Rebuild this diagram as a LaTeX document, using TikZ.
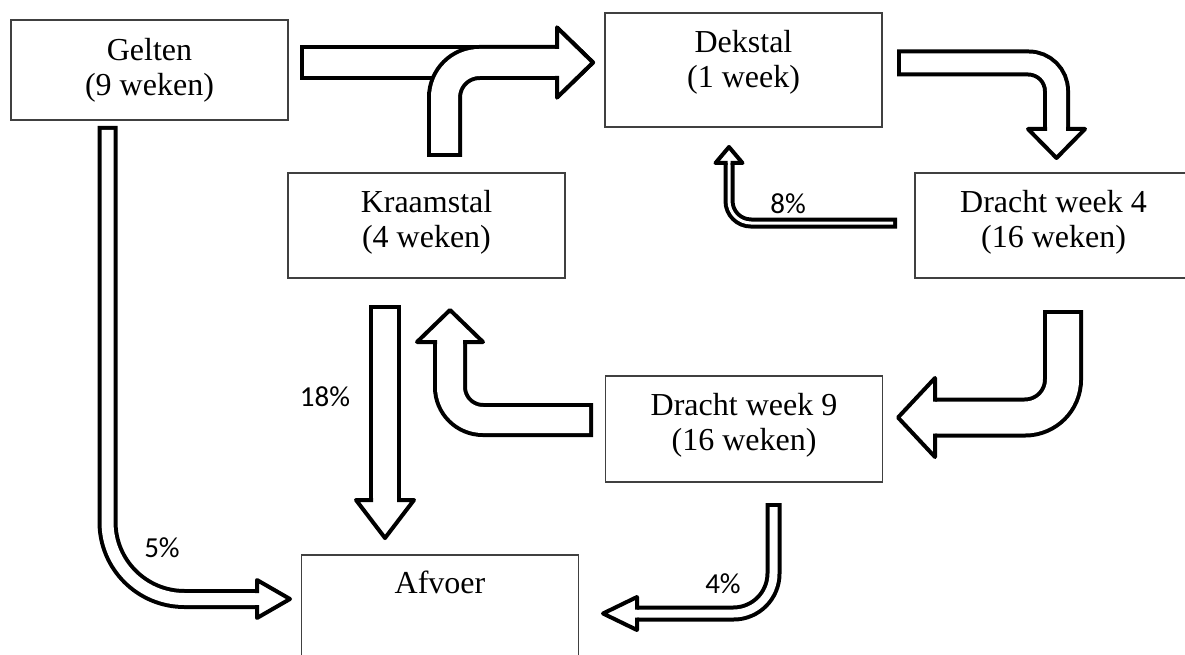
\documentclass[tikz,border=0pt]{standalone}
\usepackage{fontspec}
\setmainfont{Liberation Serif}
\newfontfamily\calibri{Carlito}
\usetikzlibrary{calc}

\begin{document}
\begin{tikzpicture}[x=1pt, y=-1pt,
    stal/.style={draw=black!75, line width=1.2pt, minimum width=277pt, align=center,
      font=\fontsize{32}{35}\selectfont},
    perc/.style={font=\calibri\fontsize{29}{32}\selectfont}]
  % All sizes are pixels of the original figure
  \def\lw{4}
  % depth under the last line, so the text sits high in its box
  \def\diep#1{\rule[-#1pt]{0pt}{0pt}}
  % block arrow: radius, shaft width, head width, path up to the head, base, tip
  \def\blokpijl#1#2#3#4#5#6{%
    \pgfmathsetmacro\binnen{#2-2*\lw}
    \pgfmathsetmacro\rand{#2/2-\lw/2}
    \pgfmathsetmacro\kop{#3/2}
    \draw[line width=#2pt, rounded corners=#1pt] #4 (#5);
    \draw[white, line width=\binnen pt, rounded corners=#1pt, shorten <=\lw pt] #4 (#5);
    \draw[fill=white, line width=\lw pt, line join=round, line cap=rect]
      ($(#5)!\rand pt!90:(#6)$) -- ($(#5)!\kop pt!90:(#6)$) -- (#6)
      -- ($(#5)!\kop pt!-90:(#6)$) -- ($(#5)!\rand pt!-90:(#6)$);
  }
  \useasboundingbox (0,0) rectangle (1185,655);

  % the stables
  \node[stal, minimum height=100pt] (gelten) at (149.5,70) {Gelten\\(9 weken)};
  \node[stal, minimum height=114pt] (dekstal) at (743.5,70) {Dekstal\\(1 week)\diep{23}};
  \node[stal, minimum height=105pt] (kraamstal) at (426.5,225.5) {Kraamstal\\(4 weken)\diep{14}};
  \node[stal, minimum height=105pt] (dw4) at (1053.5,225.5) {Dracht week 4\\(16 weken)\diep{14}};
  \node[stal, minimum height=106pt] (dw9) at (744,429) {Dracht week 9\\(16 weken)\diep{15}};
  \node[stal, minimum height=104pt] (afvoer) at (440,607) {Afvoer\diep{50}};

  % arrow points: tail, head base, tip
  \coordinate (a1) at (300,62.5);  \coordinate (a2) at (557,62.5);  \coordinate (a3) at (593,62.5);
  \coordinate (b1) at (444.5,157);
  \coordinate (c1) at (897,63);    \coordinate (c2) at (1056.5,129); \coordinate (c3) at (1056.5,158);
  \coordinate (d1) at (1063,310);  \coordinate (d2) at (935,417.5);  \coordinate (d3) at (898,417.5);
  \coordinate (e1) at (593,420);   \coordinate (e2) at (450,342);    \coordinate (e3) at (450,310);
  \coordinate (f1) at (385,305);   \coordinate (f2) at (385,500);    \coordinate (f3) at (385,538);
  \coordinate (g1) at (107.5,126); \coordinate (g2) at (257,599);    \coordinate (g3) at (290,599);
  \coordinate (h1) at (773.5,503); \coordinate (h2) at (637,613.5);  \coordinate (h3) at (603,613.5);
  \coordinate (i1) at (897,223);   \coordinate (i2) at (729,163);    \coordinate (i3) at (729,147);

  % the flows
  \blokpijl{0}{35}{70}{(a1) --}{a2}{a3}
  \blokpijl{35}{35}{70}{(b1) |-}{a2}{a3}
  \blokpijl{28}{27}{57}{(c1) -|}{c2}{c3}
  \blokpijl{38}{40}{79}{(d1) |-}{d2}{d3}
  \blokpijl{33}{34}{66}{(e1) -|}{e2}{e3}
  \blokpijl{0}{32}{58}{(f1) --}{f2}{f3}
  \blokpijl{77}{20}{38}{(g1) |-}{g2}{g3}
  \blokpijl{40}{16}{33}{(h1) |-}{h2}{h3}
  \blokpijl{22}{11}{27}{(i1) -|}{i2}{i3}

  % percentages
  \node[perc] (p5) at (162,548) {5\%};
  \node[perc] (p18) at (325,397) {18\%};
  \node[perc] (p8) at (788,204) {8\%};
  \node[perc] (p4) at (723,584) {4\%};
\end{tikzpicture}
\end{document}
